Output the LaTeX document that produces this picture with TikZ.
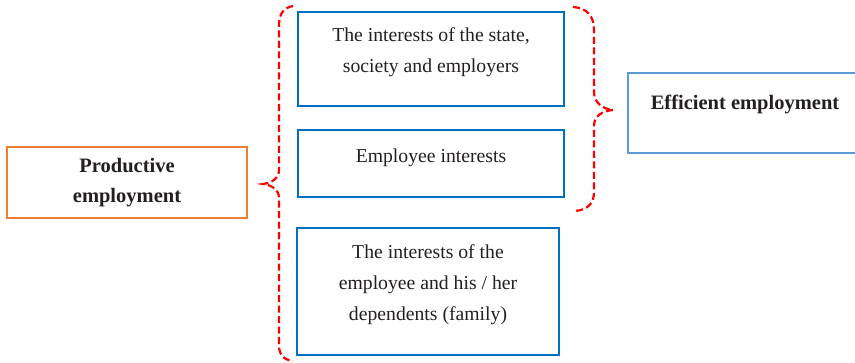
\documentclass[tikz,border=0pt]{standalone}
\usepackage{fontspec}
\setmainfont{Liberation Serif}
\usetikzlibrary{positioning}
\definecolor{prodOrange}{HTML}{ED7D31}
\definecolor{interestBlue}{HTML}{0070C0}
\definecolor{effBlue}{HTML}{5B9BD5}
\definecolor{inkGray}{HTML}{231F20}
\tikzstyle{interestBox}=[shape = rectangle, draw = interestBlue, line width = 2.4pt, inner sep = 0pt]
\tikzstyle{interestText}=[align = center, inner sep = 0pt, text = inkGray]
\tikzstyle{braceLine}=[draw = red, line width = 2.2pt, dash pattern = on 7pt off 3.5pt]

\begin{document}
\begin{tikzpicture}[x = 1pt, y = -1pt, font = \fontsize{19.7}{31}\selectfont]
\useasboundingbox (0,0) rectangle (855,363);
% left and right outcomes
\node[shape = rectangle, draw = prodOrange, line width = 1.6pt, minimum width = 240pt, minimum height = 71pt,
  align = center, font = \fontsize{20.5}{30}\selectfont\bfseries, text = inkGray] (prod) at (127,182.5) {Productive\\ employment};
\node[shape = rectangle, draw = effBlue, line width = 2.4pt, minimum width = 234pt, minimum height = 80pt] (eff) at (745,113) {};
\node[interestText, font = \fontsize{20.5}{31}\selectfont\bfseries, below = 23pt of eff.north] (effText) {Efficient employment};
% interests
\node[interestBox, minimum width = 266pt, minimum height = 94pt] (state) at (431,59) {};
\node[interestText, below = 17pt of state.north] (stateText) {The interests of the state,\\ society and employers};
\node[interestBox, minimum width = 266pt, minimum height = 67pt] (worker) at (431,163.5) {};
\node[interestText, below = 19.5pt of worker.north] (workerText) {Employee interests};
\node[interestBox, minimum width = 262pt, minimum height = 127pt] (family) at (428,291.5) {};
\node[interestText, below = 17.5pt of family.north] (familyText) {The interests of the\\ employee and his / her\\ dependents (family)};
% braces
\coordinate (prodTip) at (263,184);
\coordinate (effTip) at (613,110);
\draw[braceLine] (293,6) .. controls (283,8) and (279,14) .. (279,26) -- (279,170)
  .. controls (279,178) and (272,183) .. (prodTip) .. controls (272,185) and (279,190) .. (279,198)
  -- (279,345) .. controls (279,355) and (284,360) .. (293,361);
\draw[braceLine] (573,7) .. controls (587,8) and (594,16) .. (594,30) -- (594,92)
  .. controls (594,102) and (602,109) .. (effTip) .. controls (602,111) and (594,116) .. (594,126)
  -- (594,192) .. controls (594,204) and (587,210) .. (575,211);
\end{tikzpicture}
\end{document}
